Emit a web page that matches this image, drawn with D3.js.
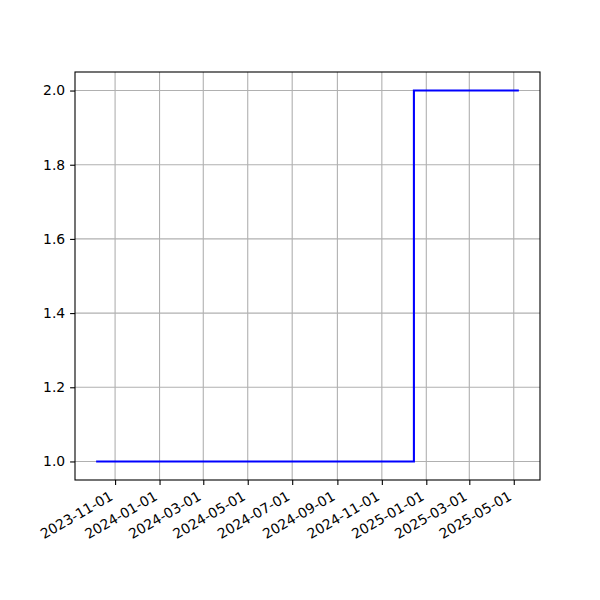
<!DOCTYPE html>
<html>
<head>
<meta charset="utf-8">
<script src="https://cdn.jsdelivr.net/npm/d3@7"></script>
<style>
body { margin: 0; background: #fff; }
text { font-family: "DejaVu Sans", sans-serif; }
</style>
</head>
<body>
<svg id="chart" width="600" height="600"></svg>
<script>
const dates = ["2023-10-06", "2024-12-15", "2025-05-08"];
const values = [1, 2, 2];
const xTickLabels = ["2023-11-01","2024-01-01","2024-03-01","2024-05-01","2024-07-01","2024-09-01","2024-11-01","2025-01-01","2025-03-01","2025-05-01"];
const yTicks = [1.0, 1.2, 1.4, 1.6, 1.8, 2.0];

const parse = d3.utcParse("%Y-%m-%d");
const data = dates.map((d, i) => ({ t: parse(d), v: values[i] }));

const mLeft = 75, mRight = 540, mTop = 72, mBottom = 480;
const svg = d3.select("#chart");

const t0 = data[0].t, t1 = data[data.length - 1].t;
const pad = (t1 - t0) * 0.05;
const x = d3.scaleUtc().domain([new Date(+t0 - pad), new Date(+t1 + pad)]).range([mLeft, mRight]);
const vmin = d3.min(values), vmax = d3.max(values);
const vp = (vmax - vmin) * 0.05;
const y = d3.scaleLinear().domain([vmin - vp, vmax + vp]).range([mBottom, mTop]);

const xTicks = xTickLabels.map(parse);

// grid
const g = svg.append("g");
g.selectAll(".gx").data(xTicks).enter().append("line")
  .attr("x1", d => x(d)).attr("x2", d => x(d)).attr("y1", mTop).attr("y2", mBottom)
  .attr("stroke", "#b0b0b0").attr("stroke-width", 1.1);
g.selectAll(".gy").data(yTicks).enter().append("line")
  .attr("x1", mLeft).attr("x2", mRight).attr("y1", d => y(d)).attr("y2", d => y(d))
  .attr("stroke", "#b0b0b0").attr("stroke-width", 1.1);

// line
const line = d3.line().x(d => x(d.t)).y(d => y(d.v)).curve(d3.curveStepAfter);
svg.append("path").datum(data).attr("d", line)
  .attr("fill", "none").attr("stroke", "#0000ff").attr("stroke-width", 2.08);

// axes
const xAxis = d3.axisBottom(x).tickValues(xTicks).tickFormat(d3.utcFormat("%Y-%m-%d")).tickSizeOuter(0).tickSize(4.9).tickPadding(4.9);
const xg = svg.append("g").attr("transform", `translate(0,${mBottom})`).call(xAxis);
xg.select(".domain").remove();
xg.selectAll("line").attr("stroke", "#000").attr("stroke-width", 1.1);
xg.selectAll(".tick text")
  .attr("font-size", 13.9).attr("font-family", "DejaVu Sans").attr("fill", "#000")
  .attr("text-anchor", "end")
  .attr("transform", "translate(-1.7,19) rotate(-30)")
  .attr("x", 0).attr("y", 0).attr("dy", 0);

const yAxis = d3.axisLeft(y).tickValues(yTicks).tickFormat(d3.format(".1f")).tickSizeOuter(0).tickSize(4.9).tickPadding(4.9);
const yg = svg.append("g").attr("transform", `translate(${mLeft},0)`).call(yAxis);
yg.select(".domain").remove();
yg.selectAll("line").attr("stroke", "#000").attr("stroke-width", 1.1);
yg.selectAll("text").attr("font-size", 13.9).attr("font-family", "DejaVu Sans").attr("fill", "#000");

// frame
svg.append("rect").attr("x", mLeft).attr("y", mTop).attr("width", mRight - mLeft).attr("height", mBottom - mTop)
  .attr("fill", "none").attr("stroke", "#000").attr("stroke-width", 1.1);
</script>
</body>
</html>
